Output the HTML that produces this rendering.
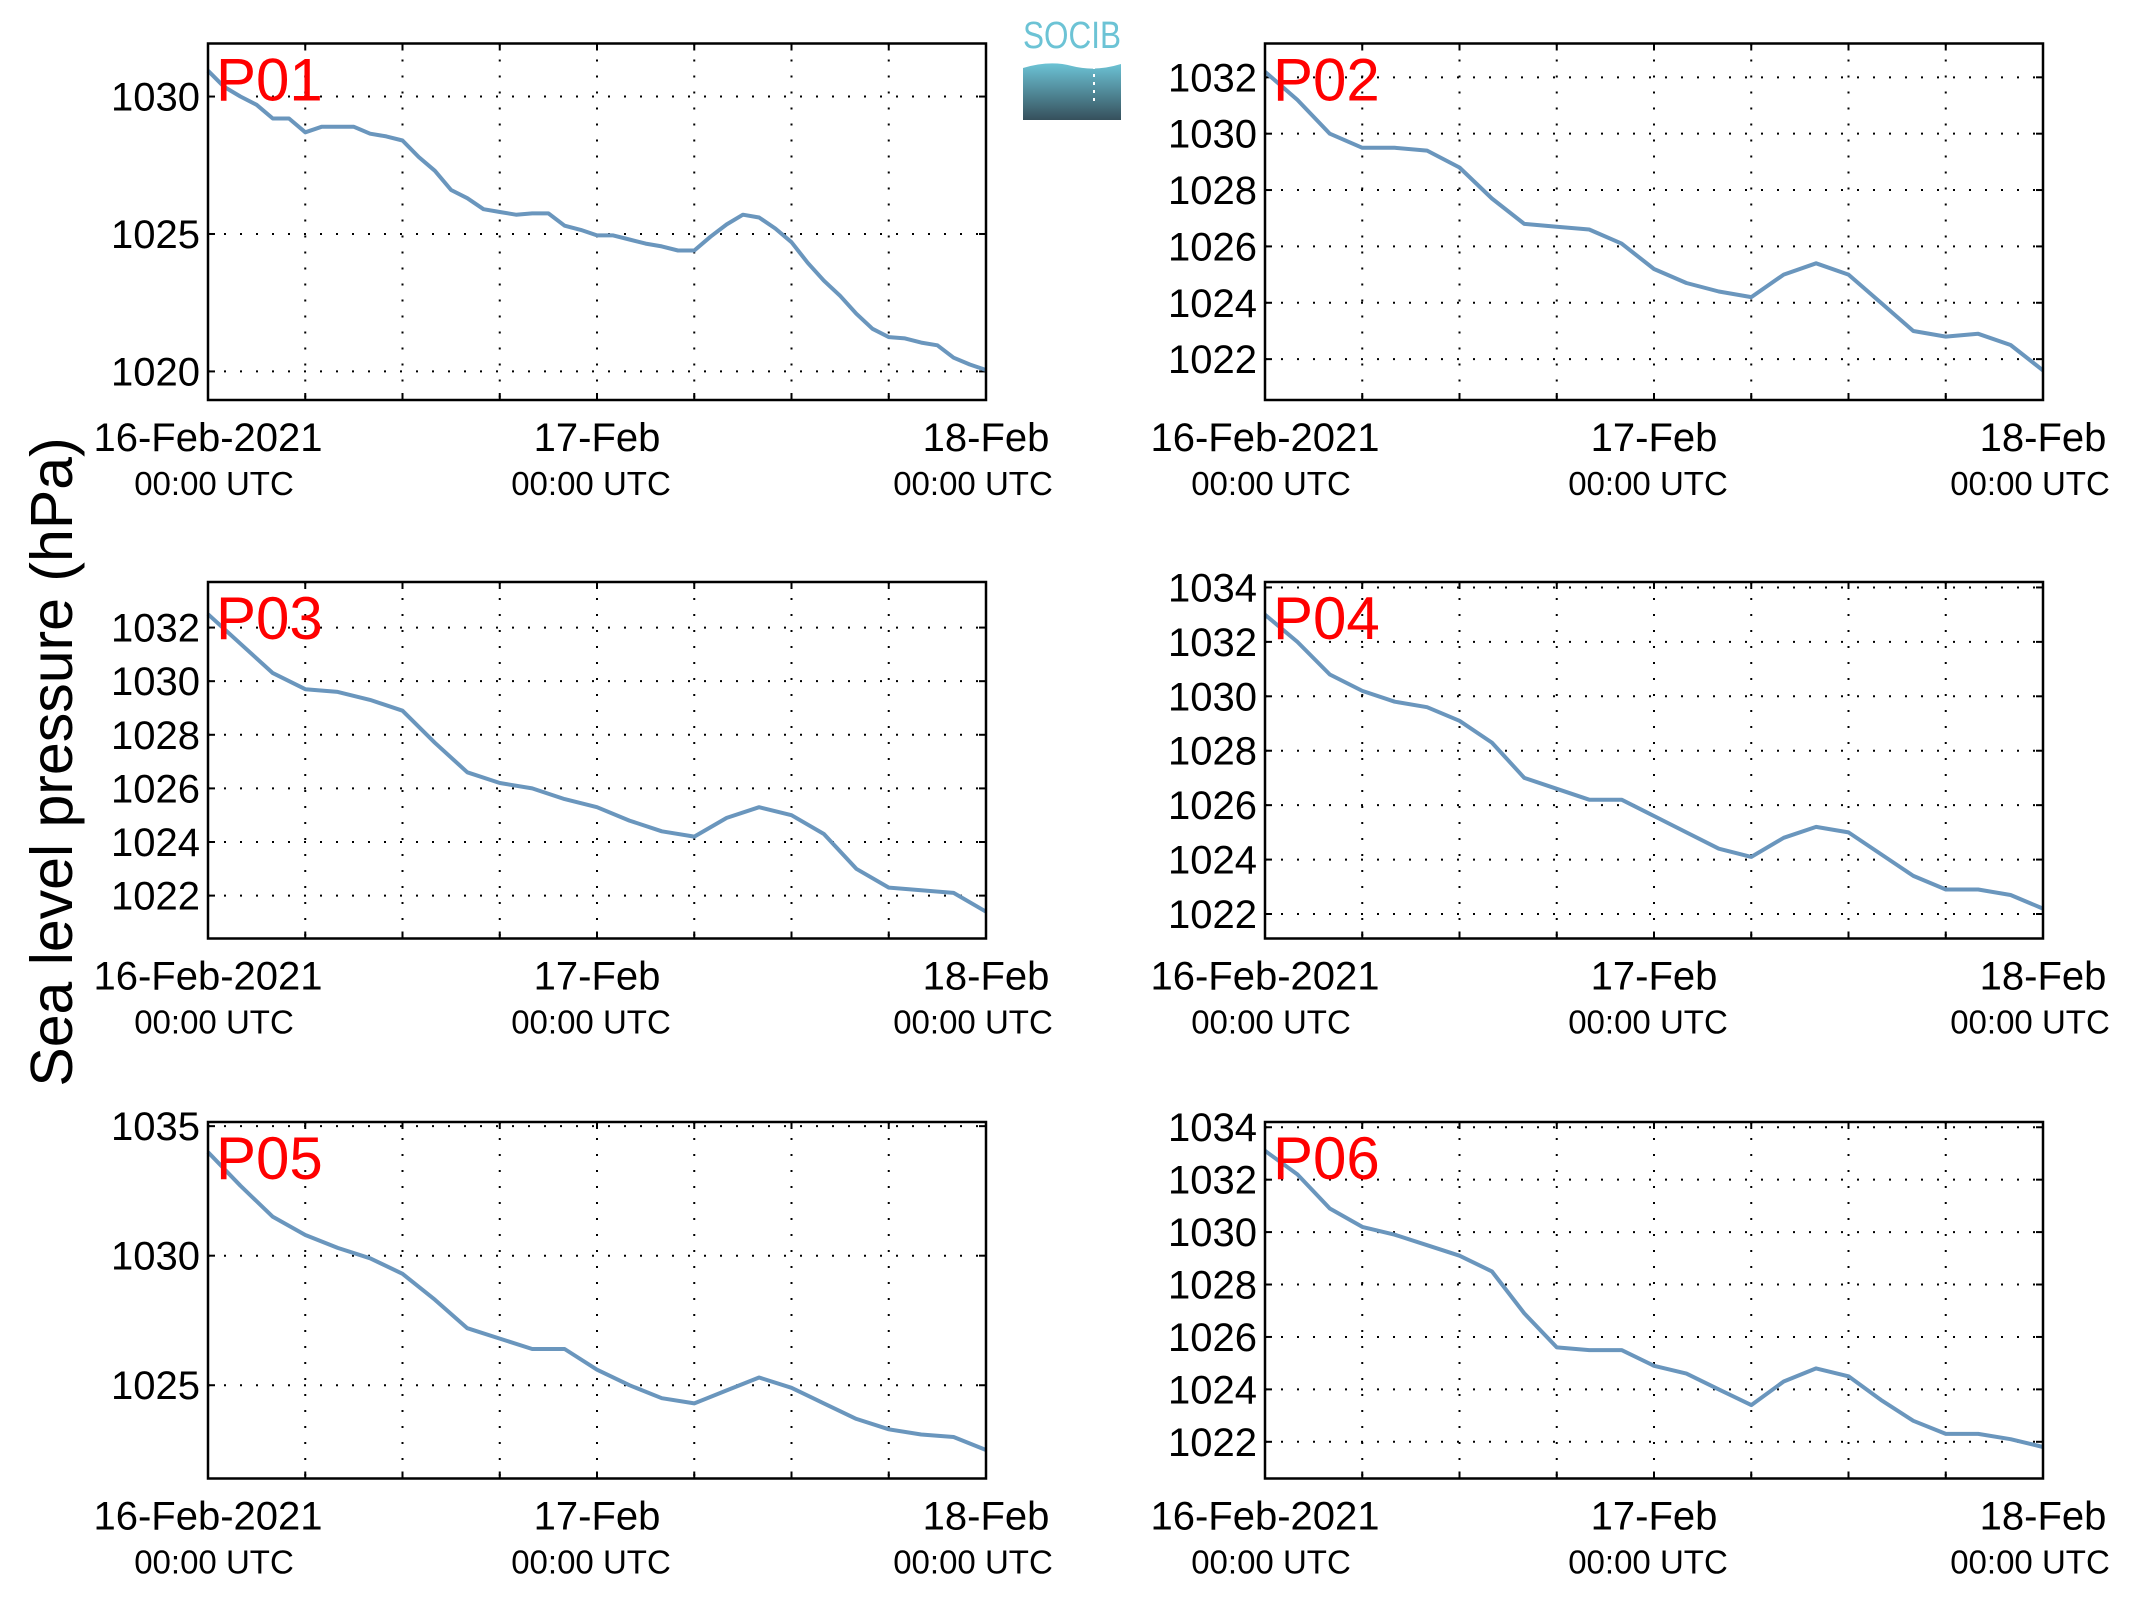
<!DOCTYPE html>
<html><head><meta charset="utf-8"><style>
html,body{margin:0;padding:0;background:#fff;}
svg{display:block;font-family:"Liberation Sans",sans-serif;}
</style></head><body>
<svg id="fig" width="2133" height="1608" viewBox="0 0 2133 1608" xmlns="http://www.w3.org/2000/svg">
<defs><linearGradient id="lg" x1="0" y1="0" x2="0" y2="1"><stop offset="0" stop-color="#6cc3d5"/><stop offset="1" stop-color="#36505c"/></linearGradient></defs>
<g>
<text x="1072" y="48" font-size="38" fill="#6cc3d5" text-anchor="middle" textLength="98" lengthAdjust="spacingAndGlyphs">SOCIB</text>
<path d="M1023 68 Q1050 60 1072 66 Q1095 72 1121 64 L1121 120 L1023 120 Z" fill="url(#lg)"/>
<line x1="1094" y1="66" x2="1094" y2="104" stroke="#fff" stroke-width="2" stroke-dasharray="3,5"/>
</g>
<text x="0" y="0" transform="translate(72,762) rotate(-90)" font-size="59" text-anchor="middle">Sea level pressure (hPa)</text>
</svg>
<script>
const panelNames = ["P01","P02","P03","P04","P05","P06"];
const p01 = [1030.94,1030.35,1030.0,1029.7,1029.2,1029.2,1028.7,1028.9,1028.9,1028.9,1028.65,1028.55,1028.4,1027.8,1027.3,1026.6,1026.3,1025.9,1025.8,1025.7,1025.75,1025.75,1025.3,1025.15,1024.95,1024.95,1024.8,1024.65,1024.55,1024.4,1024.4,1024.9,1025.35,1025.7,1025.6,1025.2,1024.7,1023.95,1023.3,1022.75,1022.1,1021.55,1021.25,1021.2,1021.05,1020.95,1020.5,1020.25,1020.05];
const p02 = [1032.2,1031.2,1030.0,1029.5,1029.5,1029.4,1028.8,1027.7,1026.8,1026.7,1026.6,1026.1,1025.2,1024.7,1024.4,1024.2,1025.0,1025.4,1025.0,1024.0,1023.0,1022.8,1022.9,1022.5,1021.6];
const p03 = [1032.5,1031.4,1030.3,1029.7,1029.6,1029.3,1028.9,1027.7,1026.6,1026.2,1026.0,1025.6,1025.3,1024.8,1024.4,1024.2,1024.9,1025.3,1025.0,1024.3,1023.0,1022.3,1022.2,1022.1,1021.4];
const p04 = [1033.0,1032.0,1030.8,1030.2,1029.8,1029.6,1029.1,1028.3,1027.0,1026.6,1026.2,1026.2,1025.6,1025.0,1024.4,1024.1,1024.8,1025.2,1025.0,1024.2,1023.4,1022.9,1022.9,1022.7,1022.2];
const p05 = [1034.0,1032.7,1031.5,1030.8,1030.3,1029.9,1029.3,1028.3,1027.2,1026.8,1026.4,1026.4,1025.6,1025.0,1024.5,1024.3,1024.8,1025.3,1024.9,1024.3,1023.7,1023.3,1023.1,1023.0,1022.5];
const p06 = [1033.1,1032.2,1030.9,1030.2,1029.9,1029.5,1029.1,1028.5,1026.9,1025.6,1025.5,1025.5,1024.9,1024.6,1024.0,1023.4,1024.3,1024.8,1024.5,1023.6,1022.8,1022.3,1022.3,1022.1,1021.8];
const seriesList = [p01,p02,p03,p04,p05,p06];
const yMins = [1018.96,1020.55,1020.4,1021.1,1021.4,1020.6];
const yMaxs = [1031.93,1033.2,1033.7,1034.2,1035.16,1034.2];
const yTicks = [[1020,1025,1030],[1022,1024,1026,1028,1030,1032],[1022,1024,1026,1028,1030,1032],[1022,1024,1026,1028,1030,1032,1034],[1025,1030,1035],[1022,1024,1026,1028,1030,1032,1034]];
const xTickHours = [0,6,12,18,24,30,36,42,48];
const xDateLabels = ["16-Feb-2021","17-Feb","18-Feb"];
const xDateHours = [0,24,48];

const NS="http://www.w3.org/2000/svg";
const svg=document.getElementById('fig');
const lefts=[208,1265], tops=[43.5,582,1122], W=778, H=356.5;
const utcOff=[6,-6,-13];
function mk(t,a,p){const e=document.createElementNS(NS,t);for(const k in a)e.setAttribute(k,a[k]);(p||svg).appendChild(e);return e;}
for(let i=0;i<6;i++){
  const L=lefts[i%2], T=tops[Math.floor(i/2)];
  const g=mk('g',{});
  
  
  const ymin=yMins[i], ymax=yMaxs[i];
  const xs=h=>L+h/48*W, ys=v=>T+H-(v-ymin)/(ymax-ymin)*H;
  xTickHours.forEach(h=>{
    const x=xs(h);
    if(h>0&&h<48){const gl=mk('line',{x1:x,y1:T,x2:x,y2:T+H,stroke:'#000','stroke-width':2,'stroke-dasharray':'2,14'},g);
    }
    mk('line',{x1:x,y1:T+H,x2:x,y2:T+H-7,stroke:'#000','stroke-width':2},g);
    mk('line',{x1:x,y1:T,x2:x,y2:T+7,stroke:'#000','stroke-width':2},g);
  });
  yTicks[i].forEach(v=>{
    const y=ys(v);
    const gl=mk('line',{x1:L,y1:y,x2:L+W,y2:y,stroke:'#000','stroke-width':2,'stroke-dasharray':'2,14'},g);
    
    mk('line',{x1:L,y1:y,x2:L+7,y2:y,stroke:'#000','stroke-width':2},g);
    mk('line',{x1:L+W,y1:y,x2:L+W-7,y2:y,stroke:'#000','stroke-width':2},g);
    const t=mk('text',{x:L-8,y:y+14,'font-size':40,'text-anchor':'end'},g);t.textContent=v;
    
  });
  const s=seriesList[i], n=s.length;
  const d=s.map((v,k)=>(k?'L':'M')+xs(k*48/(n-1)).toFixed(1)+' '+ys(v).toFixed(1)).join(' ');
  const pl=mk('path',{d:d,fill:'none',stroke:'#6a96bd','stroke-width':4,'stroke-linejoin':'round'},g);
  
  const fr=mk('rect',{x:L,y:T,width:W,height:H,fill:'none',stroke:'#000','stroke-width':2.5},g);
  
  const lab=mk('text',{x:L+8,y:T+57,'font-size':60,fill:'#ff0000'},g);lab.textContent=panelNames[i];
  
  xDateHours.forEach((h,k)=>{
    const x=xs(h);
    const t=mk('text',{x:x,y:T+H+51,'font-size':40,'text-anchor':'middle'},g);t.textContent=xDateLabels[k];
    
    const u=mk('text',{x:x+utcOff[k],y:T+H+95,'font-size':33,'text-anchor':'middle'},g);u.textContent='00:00 UTC';
    
  });
}
</script>
</body></html>
